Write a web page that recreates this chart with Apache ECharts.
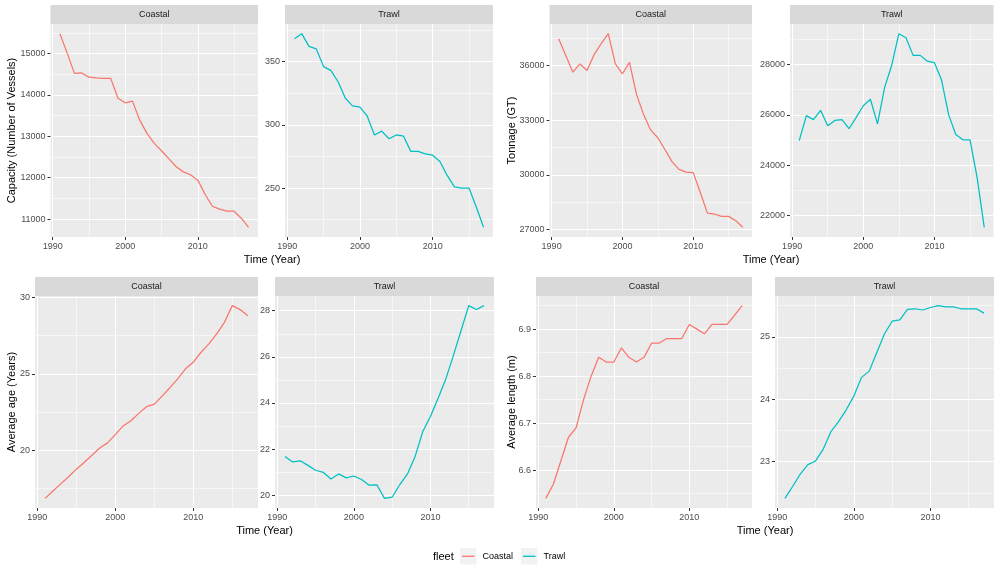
<!DOCTYPE html>
<html><head><meta charset="utf-8">
<script src="https://cdn.jsdelivr.net/npm/echarts@6/dist/echarts.min.js"></script>
<style>html,body{margin:0;padding:0;background:#fff}#c{width:998px;height:570px}</style>
</head><body><div id="c"></div>
<script>
const years = [1991,1992,1993,1994,1995,1996,1997,1998,1999,2000,2001,2002,2003,2004,2005,2006,2007,2008,2009,2010,2011,2012,2013,2014,2015,2016,2017];
const capacityCoastal = [15480,15010,14520,14530,14430,14410,14400,14400,13920,13810,13850,13390,13070,12830,12650,12460,12270,12140,12070,11940,11600,11310,11240,11190,11190,11020,10800];
const capacityTrawl = [368,372,362,360,346,343,334,321,315,314,307,292,295,289,292,291,279,279,277,276,271,260,251,250,250,235,219];
const tonnageCoastal = [37470,36550,35640,36090,35730,36600,37200,37750,36090,35550,36180,34400,33310,32460,32040,31400,30730,30310,30160,30130,29040,27910,27860,27730,27730,27490,27130];
const tonnageTrawl = [24980,25970,25810,26180,25570,25780,25810,25450,25900,26360,26620,25640,27090,27970,29220,29060,28360,28360,28130,28070,27380,26000,25220,25010,25010,23510,21540];
const ageCoastal = [16.85,17.33,17.8,18.26,18.76,19.2,19.67,20.15,20.48,21.02,21.59,21.93,22.41,22.85,23.02,23.54,24.09,24.67,25.33,25.76,26.41,26.96,27.61,28.37,29.46,29.2,28.8];
const ageTrawl = [21.68,21.44,21.49,21.29,21.08,20.99,20.70,20.92,20.75,20.83,20.68,20.43,20.45,19.86,19.91,20.46,20.92,21.68,22.76,23.41,24.20,25.03,26.06,27.14,28.22,28.05,28.22];
const lengthCoastal = [6.54,6.57,6.62,6.67,6.69,6.75,6.80,6.84,6.83,6.83,6.86,6.84,6.83,6.84,6.87,6.87,6.88,6.88,6.88,6.91,6.90,6.89,6.91,6.91,6.91,6.93,6.95];
const lengthTrawl = [22.41,22.6,22.8,22.95,23.01,23.2,23.48,23.64,23.83,24.05,24.35,24.45,24.75,25.05,25.25,25.27,25.44,25.45,25.43,25.47,25.5,25.48,25.48,25.45,25.45,25.45,25.38];

const xTicks = [1990,2000,2010];
const capacityCoastalTicks = [11000,12000,13000,14000,15000];
const capacityTrawlTicks = [250,300,350];
const tonnageCoastalTicks = [27000,30000,33000,36000];
const tonnageTrawlTicks = [22000,24000,26000,28000];
const ageCoastalTicks = [20,25,30];
const ageTrawlTicks = [20,22,24,26,28];
const lengthCoastalTicks = [6.6,6.7,6.8,6.9];
const lengthTrawlTicks = [23,24,25];

const fleets = ['Coastal','Trawl'];
const colors = {Coastal:'#F8766D', Trawl:'#00BFC4'};
const yTitles = ['Capacity (Number of Vessels)','Tonnage (GT)','Average age (Years)','Average length (m)'];
const xTitle = 'Time (Year)';
const legendTitle = 'fleet';

const FONT = 'Liberation Sans, Arial, sans-serif';

// layout (pixels)
const panels = [
  {vals:capacityCoastal, ticks:capacityCoastalTicks, fleet:'Coastal', rect:[50.5,24,207.5,213], split:5},
  {vals:capacityTrawl,   ticks:capacityTrawlTicks,   fleet:'Trawl',   rect:[285,24,208,213], split:3},
  {vals:tonnageCoastal,  ticks:tonnageCoastalTicks,  fleet:'Coastal', rect:[549.5,24,202.5,213], split:4},
  {vals:tonnageTrawl,    ticks:tonnageTrawlTicks,    fleet:'Trawl',   rect:[790,24,203.5,213], split:4},
  {vals:ageCoastal,      ticks:ageCoastalTicks,      fleet:'Coastal', rect:[35,296,223,212], split:3},
  {vals:ageTrawl,        ticks:ageTrawlTicks,        fleet:'Trawl',   rect:[275,296,219,212], split:4},
  {vals:lengthCoastal,   ticks:lengthCoastalTicks,   fleet:'Coastal', rect:[536,296,216,212], split:4},
  {vals:lengthTrawl,     ticks:lengthTrawlTicks,     fleet:'Trawl',   rect:[775,296,219,212], split:3}
];

function expand(arr){
  const lo = Math.min(...arr), hi = Math.max(...arr), d = (hi-lo)*0.05;
  return [lo-d, hi+d];
}
const xr = expand(years);

const grid=[], xAxis=[], yAxis=[], series=[], graphic=[];
panels.forEach((p,i)=>{
  const [l,t,w,h] = p.rect;
  grid.push({left:l, top:t, width:w, height:h, show:true, backgroundColor:'#EBEBEB', borderWidth:0, containLabel:false, outerBoundsMode:'none'});
  const common = {
    axisLine:{show:false},
    splitLine:{show:true, lineStyle:{color:'#FFFFFF', width:1.1}},
    minorTick:{show:false, splitNumber:2},
    minorSplitLine:{show:true, lineStyle:{color:'#FFFFFF', width:0.55}}
  };
  xAxis.push(Object.assign({}, JSON.parse(JSON.stringify(common)), {
    type:'value', gridIndex:i, min:xr[0], max:xr[1], splitNumber:3,
    axisTick:{show:true, length:3, lineStyle:{color:'#333333', width:1}, customValues:xTicks},
    axisLabel:{color:'#4D4D4D', fontSize:9, fontFamily:FONT, margin:5, customValues:xTicks, formatter:v=>String(v)}
  }));
  const yr = expand(p.vals);
  yAxis.push(Object.assign({}, JSON.parse(JSON.stringify(common)), {
    type:'value', gridIndex:i, min:yr[0], max:yr[1], splitNumber:p.split, scale:true,
    axisTick:{show:true, length:3, lineStyle:{color:'#333333', width:1}, customValues:p.ticks},
    axisLabel:{color:'#4D4D4D', fontSize:9, fontFamily:FONT, margin:5, customValues:p.ticks, formatter:v=>String(v)}
  }));
  series.push({
    type:'line', name:p.fleet, xAxisIndex:i, yAxisIndex:i, showSymbol:false, symbol:'none',
    data: years.map((y,k)=>[y,p.vals[k]]),
    lineStyle:{color:colors[p.fleet], width:1.25}, itemStyle:{color:colors[p.fleet]},
    silent:true, animation:false
  });
  // strip
  graphic.push({type:'rect', shape:{x:l, y:t-19, width:w, height:19}, style:{fill:'#D9D9D9'}, silent:true});
  graphic.push({type:'text', x:l+w/2, y:t-9.5, style:{text:p.fleet, fill:'#1A1A1A', font:'9px '+FONT, align:'center', verticalAlign:'middle'}, silent:true});
});

// axis titles
const yTitlePos = [[12,130.5],[512,130.5],[11.5,402],[511.5,402]];
yTitlePos.forEach((pos,i)=>{
  graphic.push({type:'text', x:pos[0], y:pos[1], rotation:Math.PI/2, style:{text:yTitles[i], fill:'#000', font:'11px '+FONT, align:'center', verticalAlign:'middle'}, silent:true});
});
const xTitlePos = [[272,260],[771,260],[264.5,531],[765,531]];
xTitlePos.forEach(pos=>{
  graphic.push({type:'text', x:pos[0], y:pos[1], style:{text:xTitle, fill:'#000', font:'11px '+FONT, align:'center', verticalAlign:'middle'}, silent:true});
});
// legend
graphic.push({type:'text', x:433, y:556.5, style:{text:legendTitle, fill:'#000', font:'11px '+FONT, align:'left', verticalAlign:'middle'}, silent:true});
graphic.push({type:'rect', shape:{x:460, y:548, width:16.5, height:16.5}, style:{fill:'#F2F2F2'}, silent:true, z:0});
graphic.push({type:'rect', shape:{x:521, y:548, width:16.5, height:16.5}, style:{fill:'#F2F2F2'}, silent:true, z:0});

const legendCommon = {top:551.8, itemWidth:12.5, itemHeight:1.3, icon:'rect', itemGap:0, padding:0, selectedMode:false,
  textStyle:{fontSize:9, color:'#000', fontFamily:FONT, padding:[0,0,0,3]}};
const legend = [
  Object.assign({}, legendCommon, {data:['Coastal'], left:462}),
  Object.assign({}, legendCommon, {data:['Trawl'], left:523})
];

const chart = echarts.init(document.getElementById('c'), null, {renderer:'canvas'});
chart.setOption({animation:false, textStyle:{fontFamily:FONT}, grid, xAxis, yAxis, series, graphic, legend});
</script>
</body></html>
